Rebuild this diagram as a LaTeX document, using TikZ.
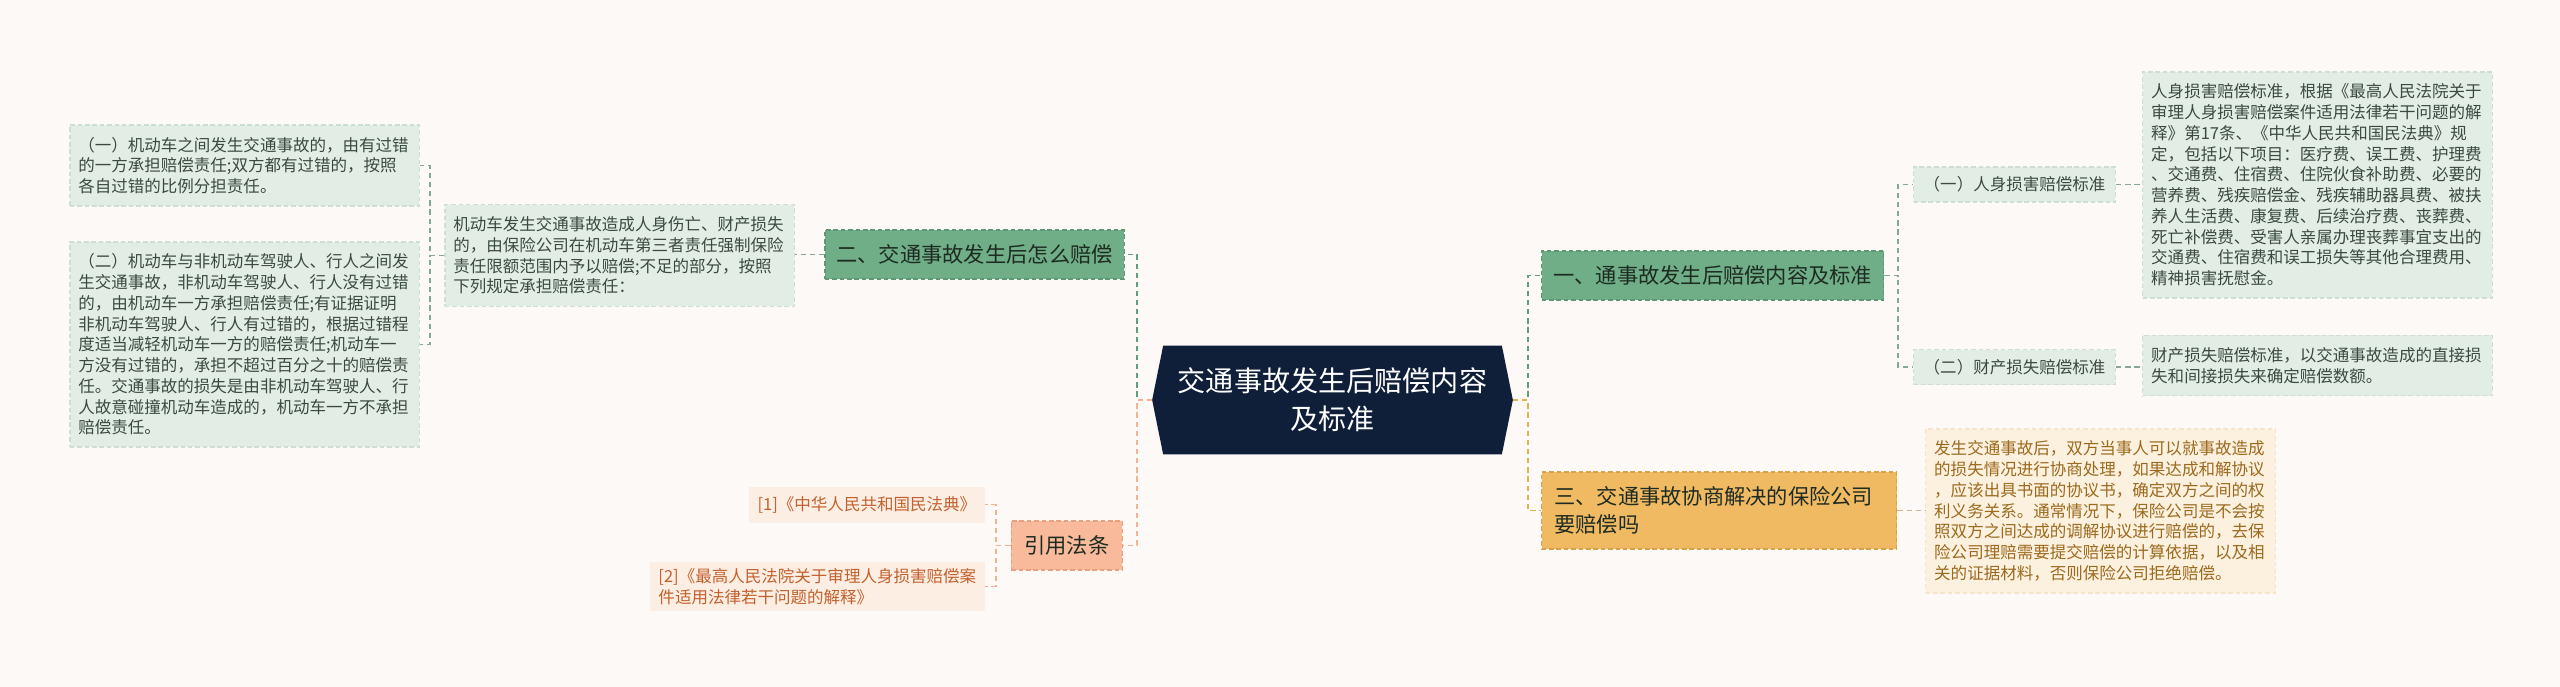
\documentclass[tikz,border=0pt]{standalone}
\usepackage{fontspec}
\setmainfont{Noto Sans CJK SC}
\usepackage{tikz}
\usetikzlibrary{
    backgrounds,
    calc
}
\definecolor{bgC}   {HTML}{FCF9F7}
\definecolor{rootC} {HTML}{0F1F3A}
\definecolor{grnC}  {HTML}{6FAE86}
\definecolor{grnD}  {HTML}{5B9873}
\definecolor{grnT}  {HTML}{1E2B22}
\definecolor{mintC} {HTML}{E2EEE5}
\definecolor{mintD} {HTML}{CCDFD2}
\definecolor{leafT} {HTML}{3A4A40}
\definecolor{peachC}{HTML}{F8BA9A}
\definecolor{peachD}{HTML}{E9A07F}
\definecolor{refC}  {HTML}{FDEEE3}
\definecolor{refT}  {HTML}{C3612E}
\definecolor{goldC} {HTML}{F0BA62}
\definecolor{goldD} {HTML}{D9A24A}
\definecolor{goldLt}{HTML}{FCF0DE}
\definecolor{goldT} {HTML}{9C6A1E}
\definecolor{connG} {HTML}{5E9E78}
\definecolor{connL} {HTML}{86A994}
\definecolor{connP} {HTML}{F2B293}
\definecolor{connY} {HTML}{E6B152}
\definecolor{connYl}{HTML}{CDB48E}
\tikzset{
  bord/.style    = {line width=0.8pt, dash pattern=on 2.6pt off 1.6pt},
  rootbox/.style = {text=white, align=center, inner sep=0pt,
                    minimum width=6.76cm, minimum height=2.16cm,
                    font=\fontsize{16pt}{21.6pt}\selectfont},
  topicG/.style  = {bord, draw=grnD, fill=grnC, text=grnT,
                    inner xsep=0.23cm, minimum height=0.98cm,
                    font=\fontsize{12.1pt}{16pt}\selectfont},
  topicP/.style  = {topicG, draw=peachD, fill=peachC, inner xsep=0.26cm},
  topicY/.style  = {topicG, draw=goldD, fill=goldC, align=left,
                    text width=6.6cm, inner xsep=0.25cm, minimum height=1.54cm},
  leaf/.style    = {bord, draw=mintD, fill=mintC, text=leafT, align=left,
                    text width=6.65cm, inner xsep=0.17cm, inner ysep=0.24cm,
                    font=\fontsize{9.4pt}{11.8pt}\selectfont},
  leafY/.style   = {leaf, draw=goldLt!85!goldD, fill=goldLt, text=goldT},
  subbox/.style  = {bord, draw=mintD, fill=mintC, text=leafT,
                    inner xsep=0.2cm, minimum height=0.70cm,
                    font=\fontsize{9.4pt}{11.8pt}\selectfont},
  refbox/.style  = {fill=refC, draw=refC, text=refT, align=left,
                    inner xsep=0.17cm, minimum height=0.70cm,
                    font=\fontsize{9.4pt}{11.8pt}\selectfont},
  cG/.style      = {draw=connG,  line width=1.1pt, dash pattern=on 3pt off 2.2pt},
  cL/.style      = {draw=connL,  line width=1.0pt, dash pattern=on 3pt off 2.2pt},
  cP/.style      = {draw=connP,  line width=1.1pt, dash pattern=on 3pt off 2.2pt},
  cY/.style      = {draw=connY,  line width=1.1pt, dash pattern=on 3pt off 2.2pt},
  cYl/.style     = {draw=connYl, line width=1.0pt, dash pattern=on 3pt off 2.2pt}
}

\begin{document}
\begin{tikzpicture}

  \useasboundingbox (0,0) rectangle (51.2,-13.74);
  \begin{scope}[on background layer]
    \fill[bgC] (0,0) rectangle (51.2,-13.74);
  \end{scope}

  %% ── Root ──────────────────────────────────────────────────────
  \node[rootbox] (root) at (26.65,-8.00) {交通事故发生后赔偿内容\\及标准};
  \coordinate (rootL) at ([xshift=-0.22cm]root.west);
  \coordinate (rootR) at ([xshift= 0.22cm]root.east);
  \begin{scope}[on background layer]
    \fill[rootC] (root.north west) -- (root.north east) -- (rootR)
      -- (root.south east) -- (root.south west) -- (rootL) -- cycle;
  \end{scope}

  %% ── Left branch: 二 ───────────────────────────────────────────
  \node[topicG, anchor=east] (n2) at (22.50,-5.09) {二、交通事故发生后怎么赔偿};
  \node[leaf, anchor=east] (body2) at (15.90,-5.11) {%
    机动车发生交通事故造成人身伤亡、财产损失\\
    的，由保险公司在机动车第三者责任强制保险\\
    责任限额范围内予以赔偿;不足的部分，按照\\
    下列规定承担赔偿责任：};
  \node[leaf, anchor=east] (left1) at (8.40,-3.31) {%
    （一）机动车之间发生交通事故的，由有过错\\
    的一方承担赔偿责任;双方都有过错的，按照\\
    各自过错的比例分担责任。};
  \node[leaf, anchor=east] (left2) at (8.40,-6.89) {%
    （二）机动车与非机动车驾驶人、行人之间发\\
    生交通事故，非机动车驾驶人、行人没有过错\\
    的，由机动车一方承担赔偿责任;有证据证明\\
    非机动车驾驶人、行人有过错的，根据过错程\\
    度适当减轻机动车一方的赔偿责任;机动车一\\
    方没有过错的，承担不超过百分之十的赔偿责\\
    任。交通事故的损失是由非机动车驾驶人、行\\
    人故意碰撞机动车造成的，机动车一方不承担\\
    赔偿责任。};

  %% ── Left branch: 引用法条 ─────────────────────────────────────
  \node[topicP, anchor=east] (cite) at (22.46,-10.91) {引用法条};
  \node[refbox, anchor=east] (ref1) at (19.70,-10.09) {[1]《中华人民共和国民法典》};
  \node[refbox, anchor=east] (ref2) at (19.70,-11.73) {%
    [2]《最高人民法院关于审理人身损害赔偿案\\
    件适用法律若干问题的解释》};

  %% ── Right branch: 一 ──────────────────────────────────────────
  \node[topicG, anchor=west] (n1) at (30.82,-5.51) {一、通事故发生后赔偿内容及标准};
  \node[subbox, anchor=west] (sub1) at (38.26,-3.69) {（一）人身损害赔偿标准};
  \node[subbox, anchor=west] (sub2) at (38.26,-7.34) {（二）财产损失赔偿标准};
  \node[leaf, anchor=west] (body1a) at (42.84,-3.70) {%
    人身损害赔偿标准，根据《最高人民法院关于\\
    审理人身损害赔偿案件适用法律若干问题的解\\
    释》第17条、《中华人民共和国民法典》规\\
    定，包括以下项目：医疗费、误工费、护理费\\
    、交通费、住宿费、住院伙食补助费、必要的\\
    营养费、残疾赔偿金、残疾辅助器具费、被扶\\
    养人生活费、康复费、后续治疗费、丧葬费、\\
    死亡补偿费、受害人亲属办理丧葬事宜支出的\\
    交通费、住宿费和误工损失等其他合理费用、\\
    精神损害抚慰金。};
  \node[leaf, anchor=west] (body1b) at (42.84,-7.31) {%
    财产损失赔偿标准，以交通事故造成的直接损\\
    失和间接损失来确定赔偿数额。};

  %% ── Right branch: 三 ──────────────────────────────────────────
  \node[topicY, anchor=west] (n3) at (30.82,-10.21) {%
    三、交通事故协商解决的保险公司\\要赔偿吗};
  \node[leafY, anchor=west] (body3) at (38.50,-10.22) {%
    发生交通事故后，双方当事人可以就事故造成\\
    的损失情况进行协商处理，如果达成和解协议\\
    ，应该出具书面的协议书，确定双方之间的权\\
    利义务关系。通常情况下，保险公司是不会按\\
    照双方之间达成的调解协议进行赔偿的，去保\\
    险公司理赔需要提交赔偿的计算依据，以及相\\
    关的证据材料，否则保险公司拒绝赔偿。};

  %% ── Connectors ────────────────────────────────────────────────
  \draw[cG] (rootL) -- ++(-0.30,0) |- (n2.east);
  \draw[cP] (rootL) -- ++(-0.30,0) |- (cite.east);
  \draw[cG] (rootR) -- ++(0.30,0) |- (n1.west);
  \draw[cY] (rootR) -- ++(0.30,0) |- (n3.west);

  \draw[cL] (n2.west) -- (n2.west -| body2.east);
  \draw[cL] (body2.west) -- ++(-0.28,0) |- (left1.east);
  \draw[cL] (body2.west) -- ++(-0.28,0) |- (left2.east);

  \draw[cP] (cite.west) -- ++(-0.30,0) |- (ref1.east);
  \draw[cP] (cite.west) -- ++(-0.30,0) |- (ref2.east);

  \draw[cL] (n1.east) -- ++(0.28,0) |- (sub1.west);
  \draw[cL] (n1.east) -- ++(0.28,0) |- (sub2.west);
  \draw[cL] (sub1.east) -- (sub1.east -| body1a.west);
  \draw[cL] (sub2.east) -- (sub2.east -| body1b.west);

  \draw[cYl] (n3.east) -- (n3.east -| body3.west);

\end{tikzpicture}
\end{document}
